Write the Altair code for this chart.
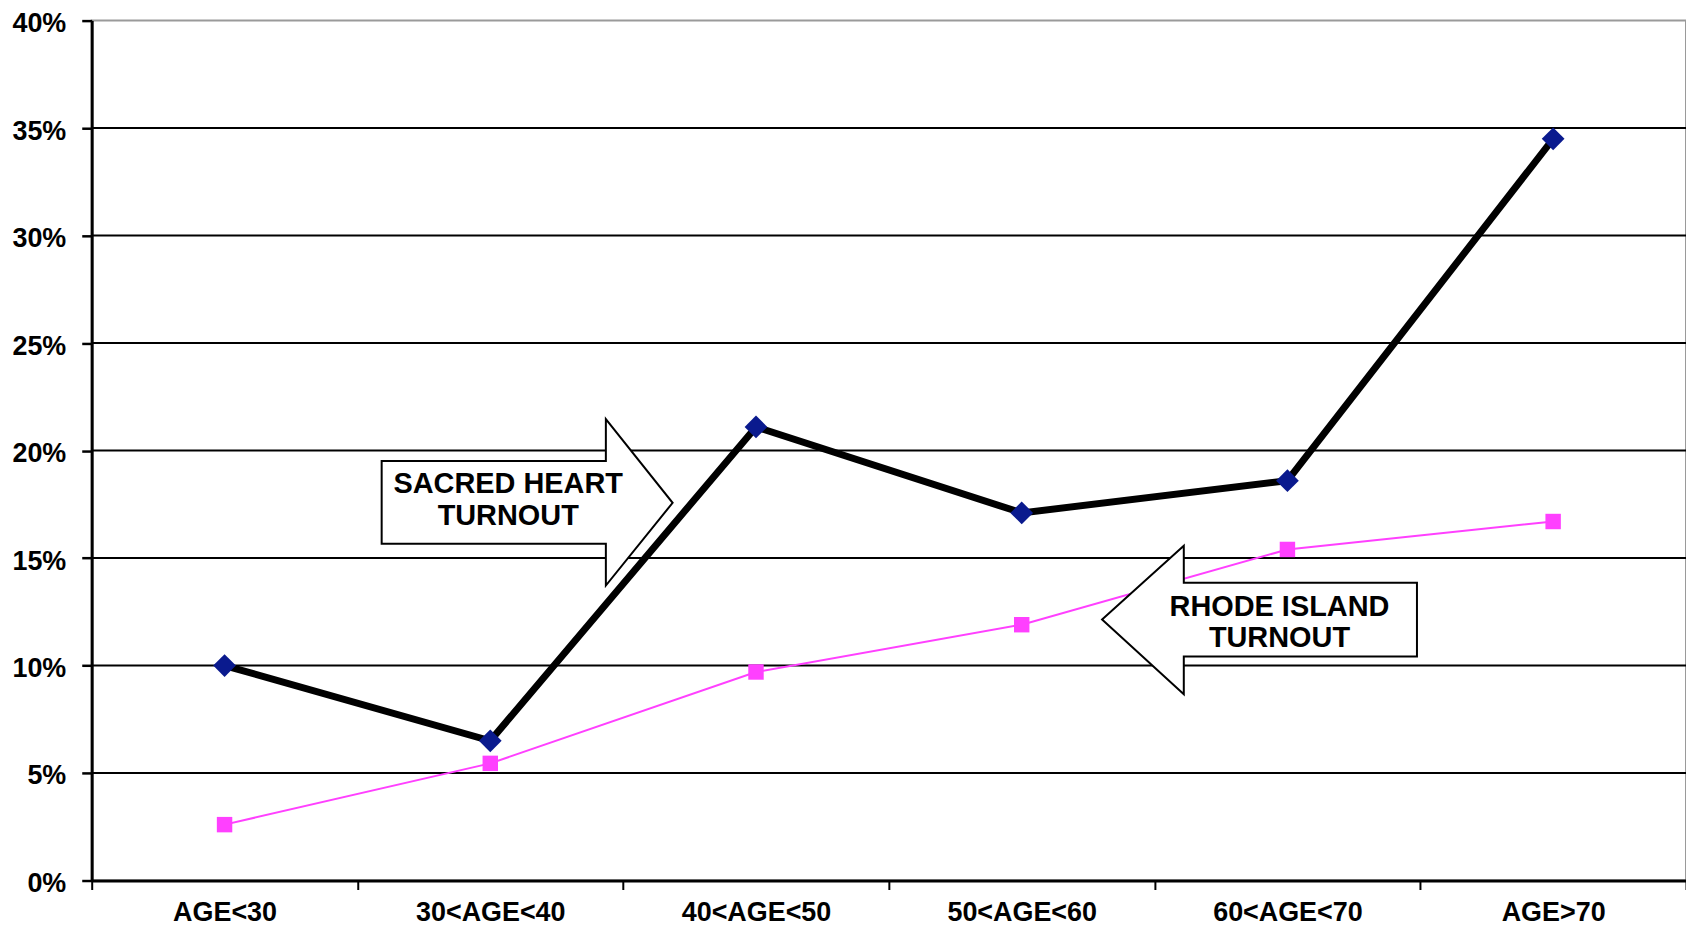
import altair as alt
import pandas as pd

# ---- data ----
categories = ["AGE<30", "30<AGE<40", "40<AGE<50", "50<AGE<60", "60<AGE<70", "AGE>70"]
sacred_heart = [0.100, 0.065, 0.211, 0.171, 0.186, 0.345]
rhode_island = [0.026, 0.0545, 0.097, 0.119, 0.154, 0.167]
y_ticks = [0.0, 0.05, 0.10, 0.15, 0.20, 0.25, 0.30, 0.35, 0.40]
grid_values = [0.05, 0.10, 0.15, 0.20, 0.25, 0.30, 0.35]

ann_text = ["SACRED HEART\nTURNOUT", "RHODE ISLAND\nTURNOUT"]
ann_category = ["30<AGE<40", "60<AGE<70"]
ann_value = [0.1757, 0.1214]

FONT = "Liberation Sans"

sh_df = pd.DataFrame({"category": categories, "value": sacred_heart})
ri_df = pd.DataFrame({"category": categories, "value": rhode_island})
grid_df = pd.DataFrame({"value": grid_values})
sh_ann = pd.DataFrame({"category": [ann_category[0]], "value": [ann_value[0]], "label": [ann_text[0]]})
ri_ann = pd.DataFrame({"category": [ann_category[1]], "value": [ann_value[1]], "label": [ann_text[1]]})

x_enc = alt.X(
    "category:N",
    sort=categories,
    bandPosition=0.5,
    scale=alt.Scale(type="band", domain=categories, paddingInner=0, paddingOuter=0),
    axis=alt.Axis(
        title=None, labelAngle=0, labelFontSize=27, labelFont=FONT, labelFontWeight="bold",
        labelColor="black", labelPadding=10, tickSize=9, tickWidth=2, tickColor="black",
        tickBand="extent", domainColor="black", domainWidth=3, grid=False,
    ),
)
y_enc = alt.Y(
    "value:Q",
    scale=alt.Scale(domain=[0, 0.4], nice=False, zero=True),
    axis=alt.Axis(
        title=None, values=y_ticks, format=".0%", labelFontSize=27, labelFont=FONT,
        labelFontWeight="bold", labelColor="black", labelPadding=16, labelOffset=3,
        tickSize=10, tickWidth=2.5, tickColor="black", domainColor="black",
        domainWidth=3, grid=False,
    ),
)

grid = alt.Chart(grid_df).mark_rule(color="black", strokeWidth=2).encode(
    y=alt.Y("value:Q", scale=alt.Scale(domain=[0, 0.4], nice=False, zero=True))
)

ri_line = alt.Chart(ri_df).mark_line(color="#FF40FF", strokeWidth=2).encode(x=x_enc, y=y_enc)
ri_pts = alt.Chart(ri_df).mark_point(
    shape="square", size=240, filled=True, color="#FF40FF", opacity=1
).encode(x=x_enc, y=y_enc)

sh_line = alt.Chart(sh_df).mark_line(color="black", strokeWidth=7).encode(x=x_enc, y=y_enc)
sh_pts = alt.Chart(sh_df).mark_point(
    shape="diamond", size=520, filled=True, color="#0A1A8E", opacity=1
).encode(x=x_enc, y=y_enc)

# block-arrow outlines (pixel units, relative to the anchor point)
SH_PATH = "M-109,-42L116,-42L116,-84L183,0L116,83L116,41L-109,41Z"
RI_PATH = "M-186,0L-104,-74L-104,-37L130,-37L130,37L-104,37L-104,75Z"

sh_arrow = alt.Chart(sh_ann).mark_point(
    shape=SH_PATH, size=4, filled=True, fill="white", stroke="black", strokeWidth=2,
    opacity=1, fillOpacity=1, strokeOpacity=1,
).encode(x=x_enc, y=y_enc)
sh_text = alt.Chart(sh_ann).mark_text(
    font=FONT, fontSize=29, fontWeight="bold", color="black", lineBreak="\n",
    lineHeight=32.5, align="center", baseline="middle", dx=18, dy=-19,
).encode(x=x_enc, y=y_enc, text="label:N")

ri_arrow = alt.Chart(ri_ann).mark_point(
    shape=RI_PATH, size=4, filled=True, fill="white", stroke="black", strokeWidth=2,
    opacity=1, fillOpacity=1, strokeOpacity=1,
).encode(x=x_enc, y=y_enc)
ri_text = alt.Chart(ri_ann).mark_text(
    font=FONT, fontSize=29, fontWeight="bold", color="black", lineBreak="\n",
    lineHeight=31.5, align="center", baseline="middle", dx=-8, dy=-13,
).encode(x=x_enc, y=y_enc, text="label:N")

chart = alt.layer(
    grid, ri_line, ri_pts, sh_line, sh_pts, sh_arrow, sh_text, ri_arrow, ri_text
).properties(
    width=1600,
    height=863,
    padding={"left": 84, "top": 11, "right": 0, "bottom": 47},
    autosize=alt.AutoSizeParams(type="none"),
    background="white",
).configure_view(
    stroke="#9a9a9a", strokeWidth=2
)

chart.save("out.html", embed_options={"renderer": "svg", "actions": False})
